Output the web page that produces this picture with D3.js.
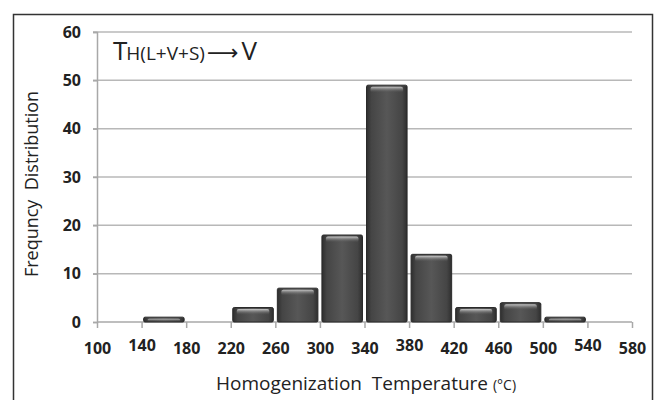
<!DOCTYPE html>
<html>
<head>
<meta charset="utf-8">
<script src="https://cdn.jsdelivr.net/npm/d3@7"></script>
<style>
  body { margin: 0; background: #fff; }
  svg { display: block; font-family: "Open Sans", "Noto Sans", sans-serif; }
</style>
</head>
<body>
<svg id="chart" width="655" height="400"></svg>
<script>
// bin edges (°C) and counts per bin
const binStarts = [140, 220, 260, 300, 340, 380, 420, 460, 500];
const binEnds = [180, 260, 300, 340, 380, 420, 460, 500, 540];
const counts = [1, 3, 7, 18, 49, 14, 3, 4, 1];
const xTicks = [100, 140, 180, 220, 260, 300, 340, 380, 420, 460, 500, 540, 580];
const yTicks = [0, 10, 20, 30, 40, 50, 60];

const svg = d3.select('#chart');
const margin = { top: 32, right: 23, bottom: 78, left: 97 };
const width = 655 - margin.left - margin.right;
const height = 400 - margin.top - margin.bottom;

// outer frame
svg.append('rect').attr('x', 13.5).attr('y', 14.5).attr('width', 639).attr('height', 390)
    .attr('fill', 'none').attr('stroke', '#333').attr('stroke-width', 1.5);

const defs = svg.append('defs');
const body = defs.append('linearGradient').attr('id', 'barBody').attr('x1', 0).attr('x2', 1).attr('y1', 0).attr('y2', 0);
body.append('stop').attr('offset', '0%').attr('stop-color', '#2e2e2e');
body.append('stop').attr('offset', '12%').attr('stop-color', '#454545');
body.append('stop').attr('offset', '50%').attr('stop-color', '#575757');
body.append('stop').attr('offset', '88%').attr('stop-color', '#454545');
body.append('stop').attr('offset', '100%').attr('stop-color', '#2e2e2e');
const shine = defs.append('linearGradient').attr('id', 'barShine').attr('x1', 0).attr('x2', 0).attr('y1', 0).attr('y2', 1);
shine.append('stop').attr('offset', '0%').attr('stop-color', '#d8d8d8').attr('stop-opacity', 0.9);
shine.append('stop').attr('offset', '100%').attr('stop-color', '#555').attr('stop-opacity', 0);

const g = svg.append('g').attr('transform', `translate(${margin.left},${margin.top})`);

const x = d3.scaleLinear().domain([100, 580]).range([0, width]);
const y = d3.scaleLinear().domain([0, 60]).range([height, 0]);

// gridlines
g.selectAll('.grid').data(yTicks.filter(d => d > 0)).enter().append('line')
    .attr('x1', -4).attr('x2', width).attr('y1', d => y(d)).attr('y2', d => y(d))
    .attr('stroke', '#b8b8b8').attr('stroke-width', 1.5);

// y axis
const yAxis = g.append('g').call(d3.axisLeft(y).tickValues(yTicks).tickSize(4).tickPadding(12));
yAxis.select('.domain').attr('stroke', '#a8a8a8').attr('stroke-width', 1.5);
yAxis.selectAll('.tick line').attr('stroke', '#a8a8a8').attr('stroke-width', 1.5);
yAxis.selectAll('text').attr('font-size', 16).attr('font-weight', 'bold').attr('fill', '#222')
    .attr('font-family', '"Open Sans", sans-serif');

// x axis
const xAxis = g.append('g').attr('transform', `translate(0,${height})`)
    .call(d3.axisBottom(x).tickValues(xTicks).tickSize(6).tickPadding(15));
xAxis.select('.domain').attr('stroke', '#a8a8a8').attr('stroke-width', 1.5).attr('d', `M0,0H${width}`);
xAxis.selectAll('.tick line').attr('stroke', '#a8a8a8').attr('stroke-width', 1.5);
xAxis.selectAll('text').attr('font-size', 16).attr('font-weight', 'bold').attr('fill', '#222')
    .attr('font-family', '"Open Sans", sans-serif')
    .attr('dy', d => (d === 140 || d === 380 || d === 540) ? '0.52em' : '0.71em');

// bars
const bars = g.selectAll('.bar').data(counts).enter().append('g').attr('class', 'bar');
bars.append('rect')
    .attr('x', (d, i) => x(binStarts[i]) + 2)
    .attr('y', d => y(d))
    .attr('width', (d, i) => x(binEnds[i]) - x(binStarts[i]) - 4)
    .attr('height', d => height - y(d))
    .attr('rx', 1.5)
    .attr('fill', 'url(#barBody)')
    .attr('stroke', '#2a2a2a').attr('stroke-width', 1);
bars.append('rect')
    .attr('x', (d, i) => x(binStarts[i]) + 6)
    .attr('y', d => y(d) + 1.5)
    .attr('width', (d, i) => x(binEnds[i]) - x(binStarts[i]) - 12)
    .attr('height', d => Math.min(6, Math.max(0, height - y(d) - 2)))
    .attr('rx', 2)
    .attr('fill', 'url(#barShine)');

// title formula
const t = g.append('text').attr('x', 16).attr('y', 28).attr('fill', '#222')
    .attr('font-family', '"Open Sans", sans-serif');
t.append('tspan').attr('font-size', 26).text('T');
t.append('tspan').attr('font-size', 19).attr('dx', -1).text('H(L+V+S)');
t.append('tspan').attr('font-size', 22).attr('dx', 2).attr('font-family', '"DejaVu Sans", sans-serif').text('\u27F6');
t.append('tspan').attr('font-size', 26).attr('dx', 3).text('V');

// axis labels
svg.append('text').attr('transform', 'rotate(-90)')
    .attr('x', -184).attr('y', 38).attr('text-anchor', 'middle')
    .attr('font-size', 18).attr('fill', '#222').attr('font-family', '"Open Sans", sans-serif')
    .text('Frequncy\u00A0 Distribution');

const xl = svg.append('text').attr('x', 366).attr('y', 390).attr('text-anchor', 'middle')
    .attr('fill', '#222').attr('font-family', '"Open Sans", sans-serif').attr('font-size', 19);
xl.append('tspan').text('Homogenization\u00A0 Temperature ');
xl.append('tspan').attr('font-size', 14).text('(°C)');
</script>
</body>
</html>
